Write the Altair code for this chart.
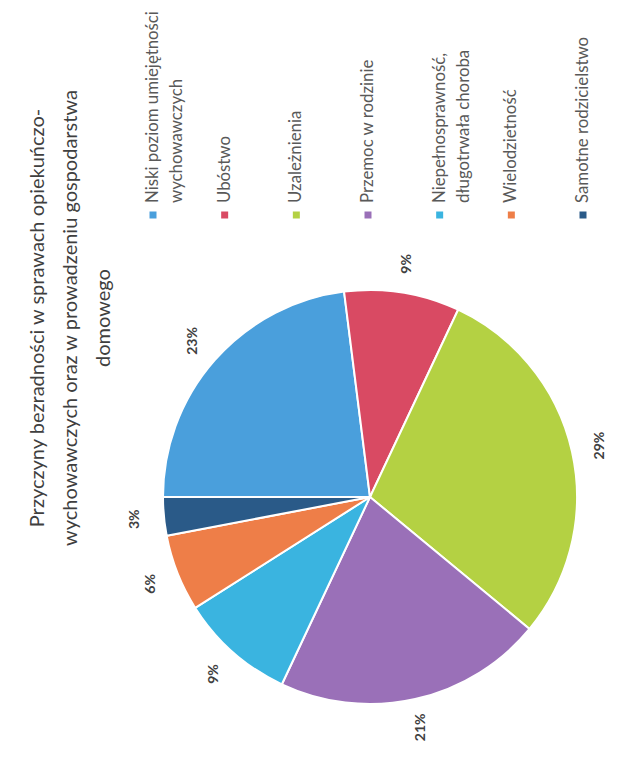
import altair as alt
import pandas as pd

# ---- data ----
categories = [
    "Niski poziom umiejętności wychowawczych",
    "Ubóstwo",
    "Uzależnienia",
    "Przemoc w rodzinie",
    "Niepełnosprawność, długotrwała choroba",
    "Wielodzietność",
    "Samotne rodzicielstwo",
]
values = [23, 9, 29, 21, 9, 6, 3]
label_line1 = [
    "Niski poziom umiejętności",
    "Ubóstwo",
    "Uzależnienia",
    "Przemoc w rodzinie",
    "Niepełnosprawność,",
    "Wielodzietność",
    "Samotne rodzicielstwo",
]
label_line2 = ["wychowawczych", "", "", "", "długotrwała choroba", "", ""]
colors = ["#4a9fdc", "#d94a63", "#b4d143", "#9a70b8", "#3ab4e0", "#ee7e48", "#2a5a88"]
title_lines = [
    "Przyczyny bezradności w sprawach opiekuńczo-",
    "wychowawczych oraz w prowadzeniu gospodarstwa",
    "domowego",
]

df = pd.DataFrame({
    "cat": categories,
    "val": values,
    "idx": list(range(len(categories))),
    "pct": [f"{v}%" for v in values],
    "l1": label_line1,
    "l2": label_line2,
})

FONT = "Lato"
W, H = 484, 748
CX, CY, R = 240, 489, 207

color = alt.Color("cat:N", scale=alt.Scale(domain=categories, range=colors), legend=None)
theta = alt.Theta("val:Q", stack=True,
                  scale=alt.Scale(range=[4.71238898, 10.99557429]))
order = alt.Order("idx:Q", sort="ascending")

base = alt.Chart(df)

arcs = base.mark_arc(outerRadius=R, stroke="white", strokeWidth=2).encode(
    theta=theta, color=color, order=order,
    x=alt.value(CX), y=alt.value(CY),
)

pct = base.mark_text(radius=R + 29, angle=270, font=FONT, fontSize=14,
                     fontWeight="bold", color="#404040",
                     align="center", baseline="middle").encode(
    theta=theta, text="pct:N", order=order,
    x=alt.value(CX), y=alt.value(CY),
)

lx = alt.X("cat:N", scale=alt.Scale(domain=categories, range=[23, 453], padding=0),
           axis=None)

squares = base.mark_square(size=49, opacity=1).encode(
    x=lx, y=alt.value(207), color=color,
)
leg1 = base.mark_text(angle=270, align="left", baseline="middle", dx=12,
                      font=FONT, fontSize=16.8, color="#595959").encode(
    x=lx, y=alt.value(207), text="l1:N",
)
leg2 = base.mark_text(angle=270, align="left", baseline="middle", dx=12, dy=24,
                      font=FONT, fontSize=16.8, color="#595959").encode(
    x=lx, y=alt.value(207), text="l2:N",
)

chart = alt.layer(arcs, pct, squares, leg1, leg2).properties(
    width=W, height=H,
    autosize="none",
    background="white",
    padding={"left": 122, "top": 0, "right": 0, "bottom": 0},
    title=alt.TitleParams(
        text=title_lines, orient="left", anchor="middle",
        font=FONT, fontSize=20, fontWeight="normal", color="#3f3f3f",
        offset=14, dx=64, lineHeight=33,
    ),
).configure_view(strokeWidth=0, stroke=None)

chart.save("out.html", embed_options={"renderer": "svg", "actions": False})
